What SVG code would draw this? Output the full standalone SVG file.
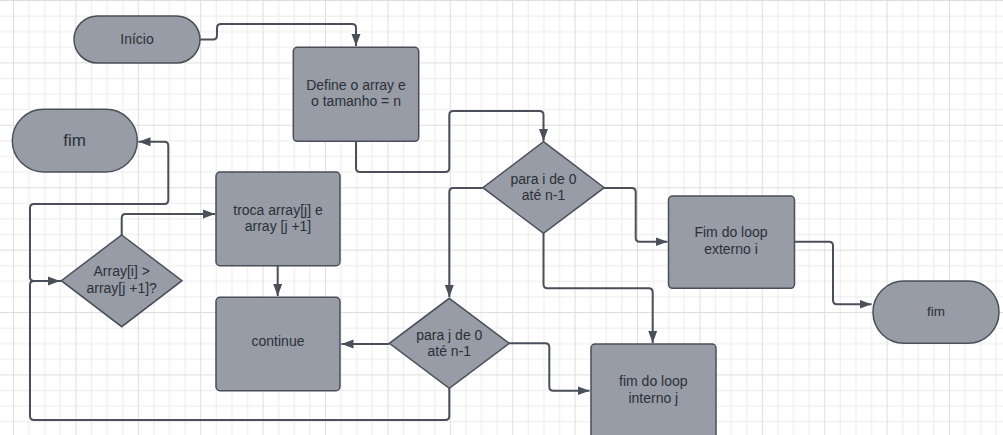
<svg xmlns="http://www.w3.org/2000/svg" width="1003" height="435" viewBox="0 0 1003 435">
<style>
.n{fill:#979ca6;stroke:#4a4f59;stroke-width:1.5}
.t{font-family:"Liberation Sans",Arial,sans-serif;font-size:14px;fill:#2c3038;text-anchor:middle}
.c{fill:none;stroke:#4a4f59;stroke-width:2;stroke-linejoin:round}
.a{marker-end:url(#arr)}
</style>
<defs>
<pattern id="grid" x="13" y="0" width="62.4" height="62.4" patternUnits="userSpaceOnUse">
<path d="M16.1,0V62.4M31.7,0V62.4M47.3,0V62.4M0,16.1H62.4M0,31.7H62.4M0,47.3H62.4" stroke="#ececec" stroke-width="1" fill="none"/>
<path d="M0.5,0V62.4M0,0.5H62.4" stroke="#dedede" stroke-width="1" fill="none"/>
</pattern>
<marker id="arr" markerUnits="userSpaceOnUse" markerWidth="13" markerHeight="10" refX="12" refY="5" orient="auto">
<path d="M0,0.5L12,5L0,9.5z" fill="#4a4f59"/>
</marker>
</defs>
<rect width="1003" height="435" fill="#ffffff"/>
<rect width="1003" height="435" fill="url(#grid)"/>

<g id="connectors">
<path class="c a" d="M200,39.5H213Q217,39.5 217,35.5V28Q217,24 221,24H352Q356,24 356,28V46"/>
<path class="c a" d="M356,141.3V168Q356,172 360,172H445.3Q449.3,172 449.3,168V115Q449.3,111 453.3,111H539.5Q543.5,111 543.5,115V141"/>
<path class="c a" d="M482.7,188H453.3Q449.3,188 449.3,192V297"/>
<path class="c a" d="M604,188H631.7Q635.7,188 635.7,192V237.7Q635.7,241.7 639.7,241.7H667.5"/>
<path class="c a" d="M543.5,233.3V284.3Q543.5,288.3 547.5,288.3H648.7Q652.7,288.3 652.7,292.3V343"/>
<path class="c a" d="M794.5,241.7H829Q833,241.7 833,245.7V300.3Q833,304.3 837,304.3H871.5"/>
<path class="c a" d="M509.3,343.3H545.3Q549.3,343.3 549.3,347.3V386.7Q549.3,390.7 553.3,390.7H589.5"/>
<path class="c a" d="M389.3,344H341.5"/>
<path class="c a" d="M449.3,388.3V416Q449.3,420 445.3,420H34Q30,420 30,416V285Q30,281 34,281H60"/>
<path class="c a" d="M61,281H34Q30,281 30,277V208Q30,204 34,204H164.3Q168.3,204 168.3,200V145.7Q168.3,141.7 164.3,141.7H138.5"/>
<path class="c a" d="M121.7,235V218Q121.7,214 125.7,214H215"/>
<path class="c a" d="M277.7,265.7V296"/>
</g>

<g id="inicio">
<rect class="n" x="74" y="16" width="126" height="47" rx="23.5"/>
<text class="t" x="137" y="44">Início</text>
</g>
<g id="define">
<rect class="n" x="293.3" y="47.3" width="125.4" height="94" rx="4"/>
<text class="t" x="356" y="89.5">Define o array e</text>
<text class="t" x="356" y="106">o tamanho = n</text>
</g>
<g id="fim1">
<rect class="n" x="12.3" y="109.3" width="125" height="62.7" rx="31.3"/>
<text class="t" x="74.5" y="145.5" style="font-size:17px">fim</text>
</g>
<g id="para-i">
<polygon class="n" points="543.5,141.7 604.2,187.7 543.5,233.3 482.8,187.7"/>
<text class="t" x="543.5" y="183.5">para i de 0</text>
<text class="t" x="543.5" y="200">até n-1</text>
</g>
<g id="fim-externo">
<rect class="n" x="668.5" y="196" width="126" height="92.3" rx="4"/>
<text class="t" x="731" y="237">Fim do loop</text>
<text class="t" x="731" y="254">externo i</text>
</g>
<g id="fim2">
<rect class="n" x="873" y="281" width="126" height="62.3" rx="31"/>
<text class="t" x="936" y="316" style="font-size:13.5px">fim</text>
</g>
<g id="troca">
<rect class="n" x="216" y="172" width="124" height="93.7" rx="4"/>
<text class="t" x="278" y="214.5">troca array[j] e</text>
<text class="t" x="278" y="231">array [j +1]</text>
</g>
<g id="array-cond">
<polygon class="n" points="121.7,235 182,280.7 121.7,326.7 61.3,280.7"/>
<text class="t" x="121.7" y="276">Array[i] &gt;</text>
<text class="t" x="121.7" y="293">array[j +1]?</text>
</g>
<g id="continue">
<rect class="n" x="216" y="297.3" width="124" height="93.4" rx="4"/>
<text class="t" x="278" y="346">continue</text>
</g>
<g id="para-j">
<polygon class="n" points="449.3,298.3 509.3,343.3 449.3,388.3 389.3,343.3"/>
<text class="t" x="449.3" y="339.5">para j de 0</text>
<text class="t" x="449.3" y="356">até n-1</text>
</g>
<g id="fim-interno">
<rect class="n" x="591" y="344" width="125" height="96" rx="4"/>
<text class="t" x="653.3" y="385.5">fim do loop</text>
<text class="t" x="653.3" y="402.5">interno j</text>
</g>
</svg>
